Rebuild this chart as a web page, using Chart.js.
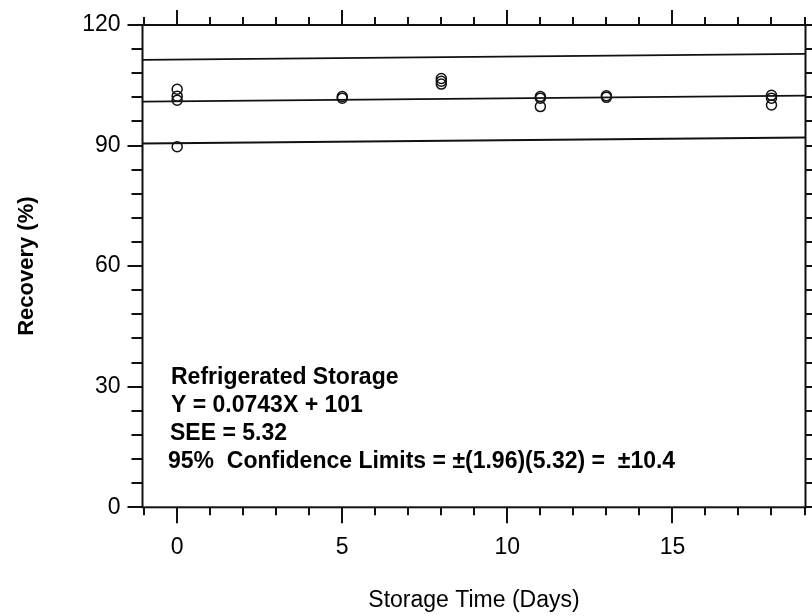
<!DOCTYPE html>
<html>
<head>
<meta charset="utf-8">
<script src="https://cdn.jsdelivr.net/npm/chart.js@4.4.1/dist/chart.umd.min.js"></script>
<style>
  html, body { margin: 0; padding: 0; background: #fff; }
  #c { display: block; }
</style>
</head>
<body>
<canvas id="c" width="812" height="616"></canvas>
<script>
// ---- data ----
const storageDays   = [0, 0, 0, 0, 5, 5, 8, 8, 8, 11, 11, 11, 13, 13, 18, 18, 18];
const recoveryPct   = [104.0, 102.3, 101.3, 89.7, 102.2, 101.8, 106.7, 106.0, 105.3, 102.2, 101.8, 99.7, 102.4, 102.0, 102.5, 101.8, 100.1];
const xTickLabels   = [0, 5, 10, 15];
const yTickLabels   = [0, 30, 60, 90, 120];
const xRange        = [-1.05, 19.03];
const yRange        = [0, 120];
const fitSlope      = 0.0743;
const fitIntercept  = 101;
const confLimit     = 10.4;
const noteLines     = [
  'Refrigerated Storage',
  'Y = 0.0743X + 101',
  'SEE = 5.32',
  '95%  Confidence Limits = \u00b1(1.96)(5.32) =  \u00b110.4'
];

const fitEnds = xRange.map(x => ({x: x, y: fitIntercept + fitSlope * x}));
const upperEnds = fitEnds.map(p => ({x: p.x, y: p.y + confLimit}));
const lowerEnds = fitEnds.map(p => ({x: p.x, y: p.y - confLimit}));
const points = storageDays.map((d, i) => ({x: d, y: recoveryPct[i]}));

const SANS = "'Liberation Sans', Arial, sans-serif";
const INK = '#111';

const framePlugin = {
  id: 'frame',
  afterDatasetsDraw(chart) {
    const {ctx, chartArea: a, scales: {x, y}} = chart;
    ctx.save();
    ctx.strokeStyle = INK;
    ctx.lineWidth = 2;
    ctx.strokeRect(a.left, a.top, a.right - a.left, a.bottom - a.top);
    ctx.beginPath();
    // x ticks every 1 day, majors every 5
    for (let v = -1; v <= 19; v++) {
      const px = Math.round(x.getPixelForValue(v));
      const major = v % 5 === 0;
      const lenB = major ? 16 : 8;
      const lenT = major ? 15 : 8;
      ctx.moveTo(px, a.bottom); ctx.lineTo(px, a.bottom + lenB);
      ctx.moveTo(px, a.top);    ctx.lineTo(px, a.top - lenT);
    }
    // y ticks every 6, majors every 30
    for (let v = 0; v <= 120; v += 6) {
      const py = Math.round(y.getPixelForValue(v));
      const major = v % 30 === 0;
      const len = major ? 15 : 11;
      ctx.moveTo(a.left, py);  ctx.lineTo(a.left - len, py);
      ctx.moveTo(a.right, py); ctx.lineTo(a.right + len, py);
    }
    ctx.stroke();

    // annotation text
    ctx.fillStyle = '#000';
    ctx.font = "bold 23px " + SANS;
    ctx.textBaseline = 'alphabetic';
    ctx.textAlign = 'left';
    const lefts = [171, 171, 170, 168];
    const base0 = a.bottom - 123;
    noteLines.forEach((t, i) => {
      ctx.fillText(t, lefts[i], base0 + i * 28);
    });
    ctx.restore();
  }
};

new Chart(document.getElementById('c'), {
  type: 'scatter',
  data: {
    datasets: [
      {
        type: 'line', data: upperEnds, borderColor: INK, borderWidth: 1.8,
        pointRadius: 0, fill: false, tension: 0
      },
      {
        type: 'line', data: fitEnds, borderColor: INK, borderWidth: 1.8,
        pointRadius: 0, fill: false, tension: 0
      },
      {
        type: 'line', data: lowerEnds, borderColor: INK, borderWidth: 1.8,
        pointRadius: 0, fill: false, tension: 0
      },
      {
        type: 'scatter', data: points, pointStyle: 'circle', pointRadius: 5,
        borderColor: INK, borderWidth: 1.5, backgroundColor: 'rgba(0,0,0,0)'
      }
    ]
  },
  options: {
    responsive: false,
    animation: false,
    devicePixelRatio: 1,
    layout: { padding: { top: 25, right: 6.5, left: 0, bottom: 0 } },
    plugins: { legend: { display: false }, tooltip: { enabled: false } },
    scales: {
      x: {
        type: 'linear', min: xRange[0], max: xRange[1],
        afterBuildTicks(s) { s.ticks = xTickLabels.map(v => ({value: v})); },
        afterFit(s) { s.height = 108.7; s.paddingLeft = 0; s.paddingRight = 0; },
        grid: { display: false, drawTicks: false },
        border: { display: false },
        ticks: {
          padding: 27, color: '#000', maxRotation: 0, autoSkip: false,
          font: { family: SANS, size: 23 }
        },
        title: {
          display: true, text: 'Storage Time (Days)', color: '#000',
          font: { family: SANS, size: 23 }, padding: { top: 0, bottom: 2 }
        }
      },
      y: {
        type: 'linear', min: yRange[0], max: yRange[1],
        afterBuildTicks(s) { s.ticks = yTickLabels.map(v => ({value: v})); },
        afterFit(s) { s.width = 142.5; s.paddingTop = 0; s.paddingBottom = 0; },
        grid: { display: false, drawTicks: false },
        border: { display: false },
        ticks: {
          padding: 22, color: '#000', autoSkip: false,
          font: { family: SANS, size: 23 }
        },
        title: {
          display: true, text: 'Recovery (%)', color: '#000',
          font: { family: SANS, size: 22, weight: 'bold' }, padding: { top: 14, bottom: 0 }
        }
      }
    }
  },
  plugins: [framePlugin]
});
</script>
</body>
</html>
